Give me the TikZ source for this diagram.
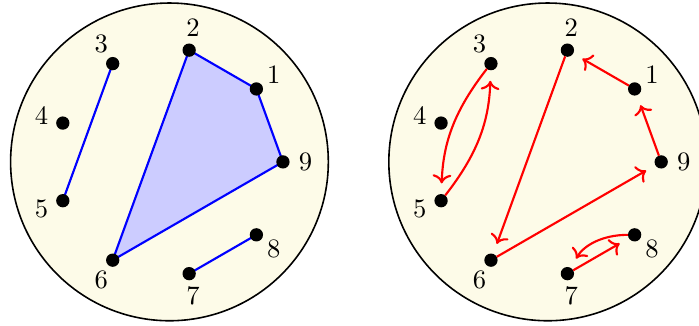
\documentclass[tikz,border=0pt]{standalone}
\usepackage{xcolor}
\usepackage{tikz}
\usetikzlibrary{arrows.meta,positioning,calc}
\definecolor{cream}{RGB}{253,251,232}

\begin{document}
\begin{tikzpicture}[thick,
    pt/.style={circle, fill=black, inner sep=0pt, minimum size=5pt, outer sep=0pt},
    num/.style={inner sep=0pt},
    disk/.style={semithick, fill=cream},
    arr/.style={->, red, shorten >=4pt}]
    \useasboundingbox (-2.24,-2.16) rectangle (7.0,2.14);
    % partition
    \draw[disk] (0,0) circle (2.1);
    \foreach \k in {1,...,9} {
        \coordinate (p\k) at (40*\k:1.5);
        \node[num] (la\k) at (40*\k:1.8) {\k};
    }
    \draw[blue, fill=blue!20] (p2) -- (p1) -- (p9) -- (p6) -- cycle;
    \draw[blue] (p3) -- (p5);
    \draw[blue] (p7) -- (p8);
    \foreach \k in {1,...,9}
        \node[pt] (a\k) at (p\k) {};
    % permutation
    \begin{scope}[xshift=5cm]
    \draw[disk] (0,0) circle (2.1);
    \foreach \k in {1,...,9} {
        \node[pt] (b\k) at (40*\k:1.5) {};
        \node[num] (lb\k) at (40*\k:1.8) {\k};
    }
    \end{scope}
    \draw[arr] (b1) -- (b2);
    \draw[arr] (b9) -- (b1);
    \draw[arr] (b6) -- (b9);
    \draw[arr] (b2) -- (b6);
    \draw[arr] (b3) to[bend right=18] (b5);
    \draw[arr] (b5) to[bend right=18] (b3);
    \draw[arr] (b7) -- (b8);
    \draw[arr] (b8) to[bend right] (b7);
\end{tikzpicture}
\end{document}
